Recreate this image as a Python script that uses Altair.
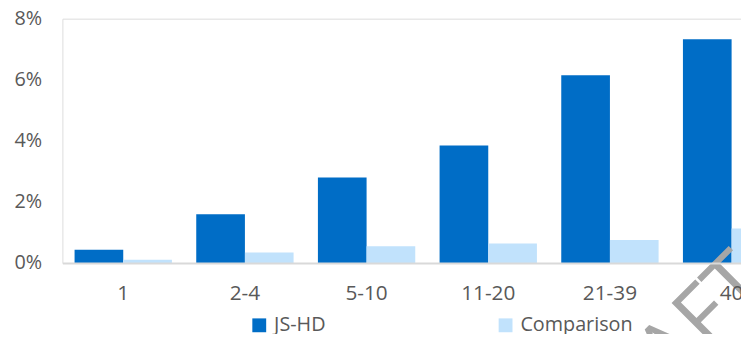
import altair as alt
import pandas as pd

categories = ["1", "2-4", "5-10", "11-20", "21-39", "40"]
series_names = ["JS-HD", "Comparison"]
jshd = [0.43, 1.6, 2.8, 3.85, 6.15, 7.33]
comparison = [0.11, 0.34, 0.55, 0.64, 0.75, 1.13]
y_ticks = [0, 2, 4, 6, 8]
colors = ["#006DC6", "#C1E2FC"]
watermark = ["DRAFT"]

rows = []
for c, a, b in zip(categories, jshd, comparison):
    rows.append({"cat": c, "series": "JS-HD", "val": a})
    rows.append({"cat": c, "series": "Comparison", "val": b})
df = pd.DataFrame(rows)

FONT = "Open Sans"
GRAY = "#595959"

bars = alt.Chart(df).mark_bar(clip=True).encode(
    x=alt.X(
        "cat:N",
        sort=categories,
        scale=alt.Scale(range=[0, 738], paddingInner=0.2, paddingOuter=0.1),
        axis=alt.Axis(
            title=None, labelAngle=0, ticks=False, domain=True,
            domainColor="#D9D9D9", domainWidth=2, zindex=1,
            labelFont=FONT, labelFontSize=21, labelColor=GRAY, labelPadding=20,
        ),
    ),
    xOffset=alt.XOffset("series:N", sort=series_names,
                        scale=alt.Scale(paddingInner=0, paddingOuter=0)),
    y=alt.Y(
        "val:Q",
        scale=alt.Scale(domain=[0, 8], nice=False),
        axis=alt.Axis(
            title=None, values=y_ticks, labelExpr="datum.value + '%'",
            domain=False, ticks=False, grid=False,
            labelFont=FONT, labelFontSize=20, labelColor=GRAY, labelPadding=21,
        ),
    ),
    color=alt.Color(
        "series:N",
        sort=series_names,
        scale=alt.Scale(domain=series_names, range=colors),
        legend=alt.Legend(
            title=None, orient="none", legendX=189, legendY=300,
            direction="horizontal", symbolType="square", symbolSize=196,
            symbolStrokeWidth=0, labelFont=FONT, labelFontSize=20,
            labelColor=GRAY, labelOffset=5, columnPadding=171, padding=0,
        ),
    ),
)

wm = alt.Chart(pd.DataFrame({"t": watermark})).mark_text(
    font=FONT, fontSize=85, color="#A6A6A6", angle=315,
    align="right", baseline="alphabetic",
).encode(text="t:N", x=alt.value(717), y=alt.value(272))

chart = alt.layer(bars, wm).properties(
    width=686, height=247,
    autosize=alt.AutoSizeParams(type="none"),
    padding={"left": 55, "top": 9, "right": 0, "bottom": 70},
).configure_view(stroke=None).configure(background="white")

chart.save("out.html", embed_options={"renderer": "svg", "actions": False})
